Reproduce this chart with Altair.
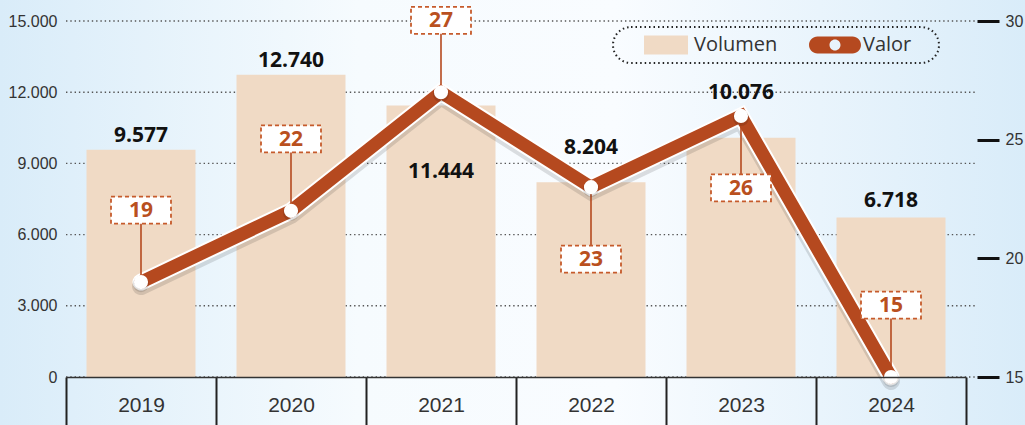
import altair as alt
import pandas as pd

# ---------------- data ----------------
years = ["2019", "2020", "2021", "2022", "2023", "2024"]
volumen = [9577, 12740, 11444, 8204, 10076, 6718]
valor = [19, 22, 27, 23, 26, 15]
vol_label_offset_px = [8, 8, -73, 28, 39, 11]   # label baseline above bar top (px)
valor_label_side = [1, 1, 1, -1, -1, 1]          # box above (1) or below (-1) the point
vol_ticks = [0, 3000, 6000, 9000, 12000, 15000]
valor_ticks = [15, 20, 25, 30]
series = ["Volumen", "Valor"]

# ---------------- layout / style ----------------
W, H = 900, 356
PAD = {"left": 66, "top": 21, "right": 59, "bottom": 48}
VOL_DOMAIN = [0, 15000]
VAL_DOMAIN = [15, 30]
BOX_STEP = 3.03  # distance of value boxes from points, in Valor units

BAR = "#F0DAC5"
LINE = "#B5491F"
ORANGE_TXT = "#B9501E"
BOX_STROKE = "#C65B2C"
AXF = "Liberation Sans"
BOLD = "Open Sans"

df = pd.DataFrame({
    "year": years, "vol": volumen, "valor": valor,
    "voff": vol_label_offset_px, "side": valor_label_side,
})
grid_df = pd.DataFrame({"g": vol_ticks})
legend_df = pd.DataFrame({"series": series})
bg_df = pd.DataFrame({"k": [0]})

x_axis = alt.Axis(title=None, labelAngle=0, labelFont=AXF, labelFontSize=21,
                  labelColor="#333", tickBand="extent", tickSize=48, tickWidth=2,
                  tickColor="#222", domainColor="#333", domainWidth=1.5,
                  labelPadding=-20, labelBaseline="middle", zindex=1)
x_enc = alt.X("year:N", sort=years, scale=alt.Scale(paddingInner=0, paddingOuter=0), axis=x_axis)

vol_scale = alt.Scale(domain=VOL_DOMAIN, nice=False, zero=True)
vol_axis = alt.Axis(title=None, values=vol_ticks, domain=False, ticks=False, grid=False,
                    labelFont=AXF, labelFontSize=16, labelColor="#333", labelPadding=9,
                    labelExpr="replace(format(datum.value, ','), ',', '.')", zindex=1)

val_scale = alt.Scale(domain=VAL_DOMAIN, nice=False, zero=False)
val_axis = alt.Axis(title=None, orient="right", values=valor_ticks, domain=False,
                    tickSize=22, tickWidth=3, tickColor="#111", offset=11, labelPadding=6,
                    labelFont=AXF, labelFontSize=16, labelColor="#333", grid=False, zindex=1)

# ---------------- left (Volumen) group ----------------
gradient = alt.LinearGradient(
    gradient="linear", x1=0, x2=1, y1=0, y2=0,
    stops=[alt.GradientStop(color="#d9ecf9", offset=0),
           alt.GradientStop(color="#f6fbfe", offset=0.35),
           alt.GradientStop(color="#f9fcff", offset=0.6),
           alt.GradientStop(color="#d9ecf9", offset=1)])

bg = alt.Chart(bg_df).mark_rect(fill=gradient).encode(
    x=alt.value(-PAD["left"]), x2=alt.value(W + PAD["right"]),
    y=alt.value(-PAD["top"]), y2=alt.value(H + PAD["bottom"]))

grid = alt.Chart(grid_df).mark_rule(color="#555", strokeWidth=1.4, strokeDash=[1.4, 2.9]).encode(
    y=alt.Y("g:Q", scale=vol_scale, axis=vol_axis),
    x=alt.value(0), x2=alt.value(W + 9))

bars = alt.Chart(df).mark_bar(color=BAR, width=alt.RelativeBandSize(109 / 150)).encode(
    x=x_enc, y=alt.Y("vol:Q", scale=vol_scale, axis=vol_axis))

bar_labels = alt.Chart(df).transform_calculate(
    ly=f"datum.vol + datum.voff * {VOL_DOMAIN[1] / H}",
    txt="replace(format(datum.vol, ','), ',', '.')",
).mark_text(font=BOLD, fontWeight="bold", fontSize=21, color="#111", baseline="alphabetic").encode(
    x=x_enc, y=alt.Y("ly:Q", scale=vol_scale, axis=vol_axis), text="txt:N")

left = alt.layer(bg, grid, bars, bar_labels)

# ---------------- right (Valor) group ----------------
base_r = alt.Chart(df).transform_calculate(ly=f"datum.valor + datum.side * {BOX_STEP}")
y_val = alt.Y("valor:Q", scale=val_scale, axis=val_axis)
y_lab = alt.Y("ly:Q", scale=val_scale, axis=val_axis)

shadow = base_r.mark_line(color="#000", opacity=0.12, strokeWidth=18, yOffset=4,
                          strokeJoin="miter", strokeCap="round").encode(x=x_enc, y=y_val)
outline = base_r.mark_line(color="white", strokeWidth=17, strokeJoin="miter",
                           strokeCap="round").encode(x=x_enc, y=y_val)
line = base_r.mark_line(color=LINE, strokeWidth=13, strokeJoin="miter",
                        strokeCap="round").encode(x=x_enc, y=y_val)
connectors = base_r.mark_rule(color=LINE, strokeWidth=1.6).encode(x=x_enc, y=y_val, y2="ly:Q")
pt_shadow = base_r.mark_point(filled=True, color="#000", opacity=0.12, size=260, yOffset=2).encode(
    x=x_enc, y=y_val)
points = base_r.mark_point(filled=True, color="white", opacity=1, size=200).encode(x=x_enc, y=y_val)

box_path = "M-1,-0.45H1V0.45H-1Z"
boxes = base_r.mark_point(shape=box_path, size=3600, filled=True, fill="white", opacity=1,
                          stroke=BOX_STROKE, strokeOpacity=1, strokeWidth=1.8,
                          strokeDash=[4, 3]).encode(x=x_enc, y=y_lab)
box_text = base_r.mark_text(font=BOLD, fontWeight="bold", fontSize=21, color=ORANGE_TXT,
                            baseline="middle", dy=1).encode(x=x_enc, y=y_lab, text="valor:Q")

# legend symbols: drawn larger than the nominal symbol cell (18 px)
swatch_path = "M-2.444,-1.056H2.444V1.056H-2.444Z"
pill_path = ("M-1.944,-0.944H1.944A0.944,0.944 0 0 1 1.944,0.944H-1.944"
             "A0.944,0.944 0 0 1 -1.944,-0.944Z"
             "M0.611,0A0.611,0.611 0 1 0 -0.611,0A0.611,0.611 0 1 0 0.611,0Z")
leg = alt.Legend(title=" ", titleOrient="right", titlePadding=20, titleFontSize=12,
                 orient="none", legendX=547, legendY=6, direction="horizontal",
                 symbolSize=324, symbolStrokeWidth=0, symbolOpacity=1,
                 labelFont=BOLD, labelFontSize=20, labelColor="#333", labelOffset=18,
                 columnPadding=12, padding=8, symbolOffset=35,
                 strokeColor="#222", cornerRadius=20)
legend_layer = alt.Chart(legend_df).mark_point(filled=True, opacity=0).encode(
    x=alt.value(0), y=alt.value(0),
    color=alt.Color("series:N", scale=alt.Scale(domain=series, range=[BAR, LINE]), legend=leg),
    shape=alt.Shape("series:N", scale=alt.Scale(domain=series, range=[swatch_path, pill_path]),
                    legend=leg))

right = alt.layer(shadow, outline, line, connectors, pt_shadow, points, boxes, box_text,
                  legend_layer)

chart = alt.layer(left, right).resolve_scale(y="independent").properties(
    width=W, height=H, padding=PAD, autosize=alt.AutoSizeParams(type="none"),
    background="#eef6fc",
).configure_view(stroke=None).configure_legend(strokeDash=[1.5, 3], strokeWidth=2)

chart.save("out.html", embed_options={"renderer": "svg", "actions": False})
